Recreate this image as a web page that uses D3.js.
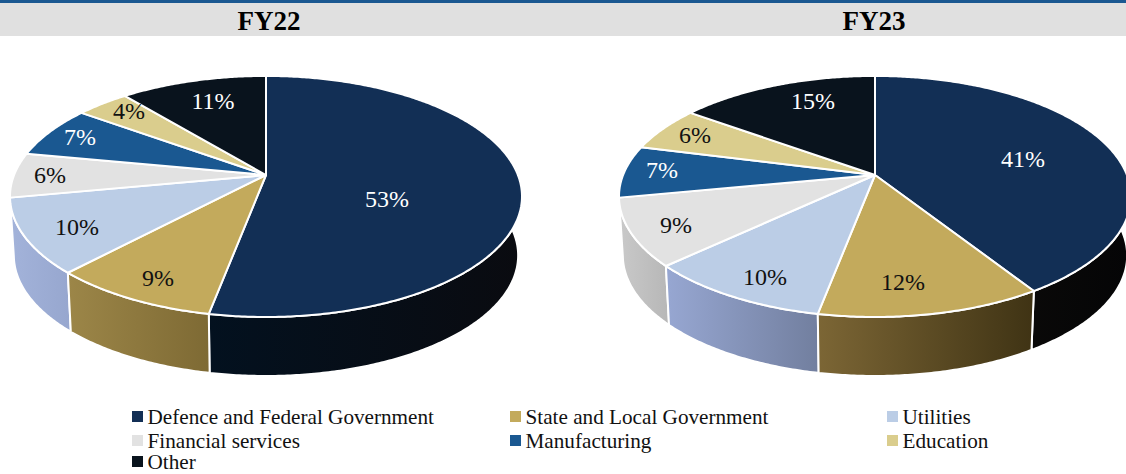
<!DOCTYPE html>
<html><head><meta charset="utf-8">
<script src="https://cdn.jsdelivr.net/npm/d3@7"></script>
<style>html,body{margin:0;padding:0;background:#fff;overflow:hidden}svg{display:block}text{font-family:"Liberation Serif",serif}</style>
</head><body><svg id="c" width="1126" height="474"></svg>
<script>
const categories=["Defence and Federal Government","State and Local Government","Utilities","Financial services","Manufacturing","Education","Other"];
const fy22=[53,9,10,6,7,4,11];
const fy23=[41,12,10,9,7,6,15];
const titles=["FY22","FY23"];
const colors=["#122f55","#c3aa5c","#bbcde6","#e2e2e2","#1a5891","#dacd8d","#09131d"];
const wall22=[["#03111f","#0a0b10"],["#9c8648","#7e6a34"],["#a3b3da","#97a7cf"],["#c8c8c8","#c0c0c0"],["#1a5891","#1a5891"],["#dacd8d","#dacd8d"],["#09131d","#09131d"]];
const wall23=[["#100f0c","#050506"],["#7c6635","#3f3314"],["#97a7d2","#727f9f"],["#c9c9c9","#b8b8b8"],["#1a5891","#1a5891"],["#dacd8d","#dacd8d"],["#09131d","#09131d"]];
const labelInk=["#fff","#111","#111","#111","#fff","#111","#fff"];
const labelOffsets22=[[121,24],[-108,103],[-189,52],[-216,0],[-186,-38],[-137,-64],[-53,-74]];
const labelOffsets23=[[148,-16],[28,107],[-110,102],[-199,50],[-213,-5],[-180,-40],[-62,-74]];
const legendColumns=[132,510,887], legendRows=[417,441,462];

const svg=d3.select("#c"), defs=svg.append("defs");
svg.append("rect").attr("width",1126).attr("height",3).attr("fill","#1a5891");
svg.append("rect").attr("y",3).attr("width",1126).attr("height",33).attr("fill","#e0e0e0");

const K=0.178, B=116.7, A=251.9, D=59, SX=0.985;
function rim(theta){ // perspective projection of a point on the disc rim, relative to apex
  const u=Math.sin(theta), v=-Math.cos(theta), w=1-K*v;
  return [A*u/w, B*v/w];
}
const lower=p=>[p[0]*SX,p[1]+D];
const arcPts=(a0,a1)=>{const n=Math.max(2,Math.ceil((a1-a0)/0.01));return d3.range(n+1).map(i=>rim(a0+(a1-a0)*i/n));};
const line=d3.line();

function drawPie(values,cx,cy,walls,labelOffsets,title,titleX,idx){
  const g=svg.append("g").attr("transform",`translate(${cx},${cy})`);
  const arcs=d3.pie().sort(null).startAngle(0).endAngle(2*Math.PI)(values);
  // walls: back to front
  const order=arcs.map((d,i)=>({d,i})).sort((a,b)=>d3.ascending(
    rim((a.d.startAngle+a.d.endAngle)/2)[1],rim((b.d.startAngle+b.d.endAngle)/2)[1]));
  order.forEach(({d,i})=>{
    const pts=arcPts(d.startAngle,d.endAngle);
    const xs=pts.map(p=>p[0]);
    const id=`w${idx}${i}`;
    const gr=defs.append("linearGradient").attr("id",id).attr("gradientUnits","userSpaceOnUse")
      .attr("x1",d3.min(xs)).attr("x2",d3.max(xs)).attr("y1",0).attr("y2",0);
    gr.append("stop").attr("offset",0).attr("stop-color",walls[i][0]);
    gr.append("stop").attr("offset",1).attr("stop-color",walls[i][1]);
    const poly=pts.concat(pts.slice().reverse().map(lower));
    g.append("path").attr("d",line(poly)+"Z").attr("fill",`url(#${id})`)
      .attr("stroke","#fff").attr("stroke-width",2).attr("stroke-linejoin","round");
  });
  // top faces
  arcs.forEach((d,i)=>{
    const pts=[[0,0]].concat(arcPts(d.startAngle,d.endAngle));
    g.append("path").attr("d",line(pts)+"Z").attr("fill",colors[i])
      .attr("stroke","#fff").attr("stroke-width",2).attr("stroke-linejoin","round");
  });
  // labels
  arcs.forEach((d,i)=>{
    g.append("text").attr("x",labelOffsets[i][0]).attr("y",labelOffsets[i][1]+8)
      .attr("text-anchor","middle").attr("font-size",24).attr("fill",labelInk[i]).text(d.value+"%");
  });
  svg.append("text").attr("x",titleX).attr("y",30).attr("text-anchor","middle")
    .attr("font-size",27).attr("font-weight","bold").attr("fill","#000").text(title);
}
drawPie(fy22,266,175,wall22,labelOffsets22,titles[0],269,0);
drawPie(fy23,875,175,wall23,labelOffsets23,titles[1],874,1);

categories.forEach((c,i)=>{
  const x=legendColumns[i%3], y=legendRows[Math.floor(i/3)];
  svg.append("rect").attr("x",x).attr("y",y-6).attr("width",11).attr("height",11).attr("fill",colors[i]);
  svg.append("text").attr("x",x+15.5).attr("y",y+7).attr("font-size",21.2).attr("fill","#111").text(c);
});
</script></body></html>
